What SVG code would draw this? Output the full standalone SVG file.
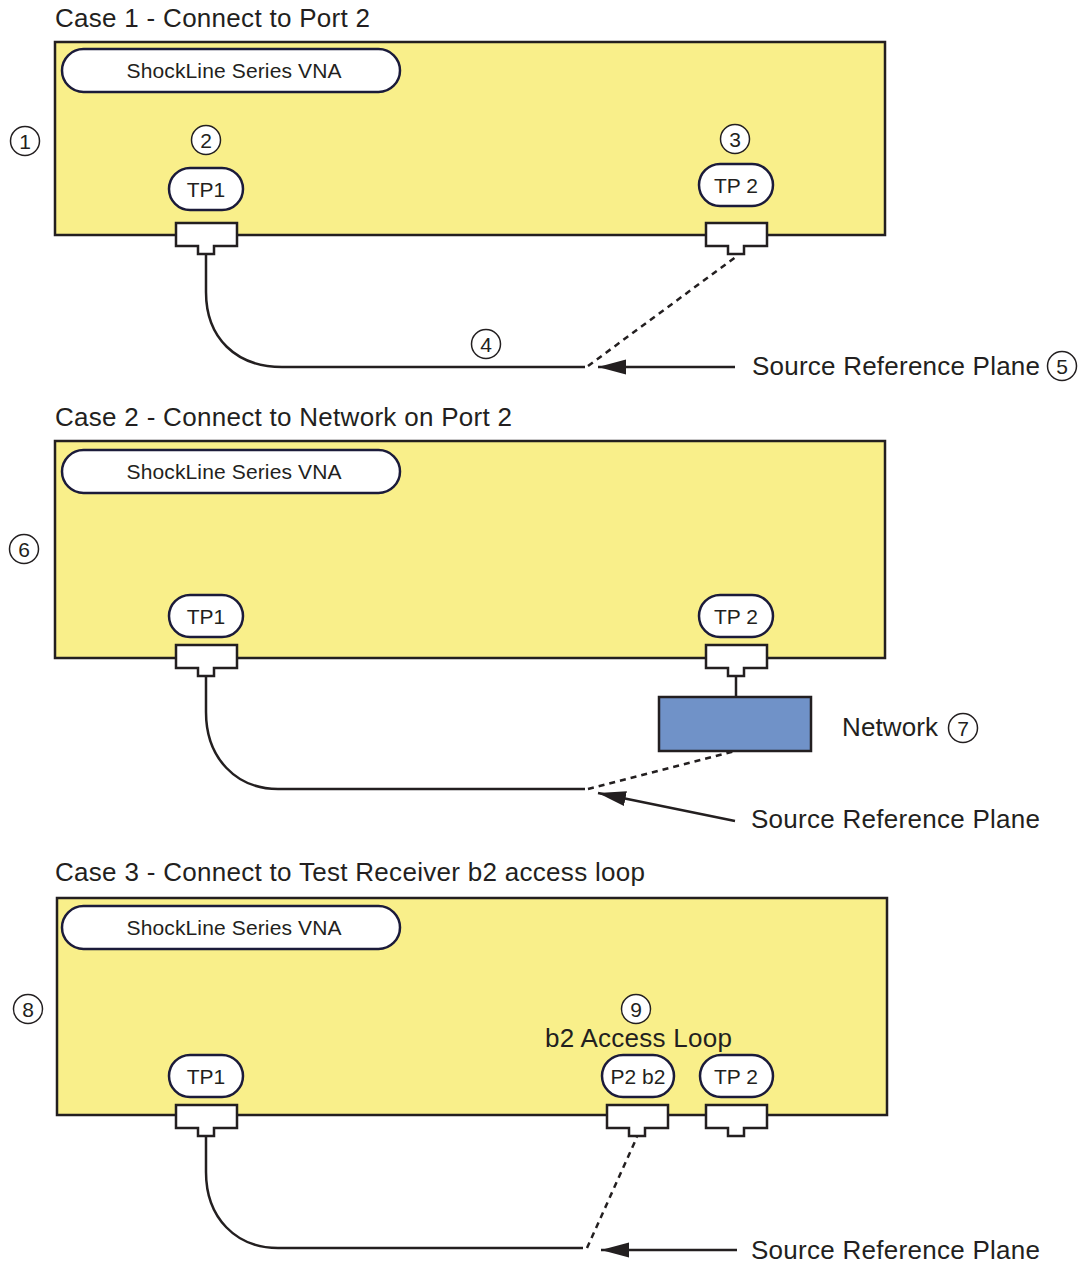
<svg xmlns="http://www.w3.org/2000/svg" width="1088" height="1265" viewBox="0 0 1088 1265">
<style>
text{font-family:"Liberation Sans",Arial,sans-serif;fill:#231F20}
.title{font-size:26px}
.lbl{font-size:26px}
.pilltxt{font-size:21px}
.num{font-size:21px}
.case{fill:#F9EF8A;stroke:#231F20;stroke-width:2.5}
.pill{fill:#fff;stroke:#1B1B3A;stroke-width:2.5}
.circ{fill:#fff;stroke:#231F20;stroke-width:1.5}
.conn{fill:#fff;stroke:#231F20;stroke-width:2.5}
.cable{fill:none;stroke:#231F20;stroke-width:2.5}
.dash{fill:none;stroke:#231F20;stroke-width:2.5;stroke-dasharray:6 5}
.arr{fill:none;stroke:#231F20;stroke-width:2.5}
</style>
<defs>
<path id="connshape" class="conn" d="M-30 0 h61 v23 h-23 v8 h-16 v-8 h-22 z"/>
<marker id="ah" markerUnits="userSpaceOnUse" markerWidth="30" markerHeight="16" refX="28" refY="7.5" orient="auto">
<path d="M0 0 L28 7.5 L0 15 z" fill="#231F20"/>
</marker>
</defs>

<!-- Case 1 -->
<g id="case1">
<text class="title" x="55" y="27" textLength="315">Case 1 - Connect to Port 2</text>
<rect class="case" x="55" y="42" width="830" height="193"/>
<g id="c1-vna"><rect class="pill" x="62" y="49" width="338" height="43" rx="21.5"/><text class="pilltxt" x="234" y="78" text-anchor="middle" textLength="215">ShockLine Series VNA</text></g>
<g id="c1-n1"><circle class="circ" cx="25" cy="141" r="14.5"/><text class="num" x="25" y="148.5" text-anchor="middle">1</text></g>
<g id="c1-n2"><circle class="circ" cx="206" cy="140" r="14.5"/><text class="num" x="206" y="147.5" text-anchor="middle">2</text></g>
<g id="c1-n3"><circle class="circ" cx="735" cy="139" r="14.5"/><text class="num" x="735" y="146.5" text-anchor="middle">3</text></g>
<g id="c1-tp1"><rect class="pill" x="169" y="168" width="74" height="42" rx="21"/><text class="pilltxt" x="206" y="196.5" text-anchor="middle">TP1</text></g>
<g id="c1-tp2"><rect class="pill" x="699" y="164" width="74" height="42" rx="21"/><text class="pilltxt" x="736" y="192.5" text-anchor="middle">TP 2</text></g>
<g id="c1-conn1"><use href="#connshape" x="206" y="223"/></g>
<g id="c1-conn2"><use href="#connshape" x="736" y="223"/></g>
<g id="c1-n4"><circle class="circ" cx="486" cy="344" r="14.5"/><text class="num" x="486" y="351.5" text-anchor="middle">4</text></g>
<g id="c1-srp"><text class="lbl" x="752" y="375" textLength="288">Source Reference Plane</text></g>
<g id="c1-n5"><circle class="circ" cx="1062" cy="366" r="14.5"/><text class="num" x="1062" y="373.5" text-anchor="middle">5</text></g>
</g>

<!-- Case 2 -->
<g id="case2">
<text class="title" x="55" y="426" textLength="457">Case 2 - Connect to Network on Port 2</text>
<rect class="case" x="55" y="441" width="830" height="217"/>
<g id="c2-vna"><rect class="pill" x="62" y="450" width="338" height="43" rx="21.5"/><text class="pilltxt" x="234" y="479" text-anchor="middle" textLength="215">ShockLine Series VNA</text></g>
<g id="c2-n6"><circle class="circ" cx="24" cy="549" r="14.5"/><text class="num" x="24" y="556.5" text-anchor="middle">6</text></g>
<g id="c2-tp1"><rect class="pill" x="169" y="595" width="74" height="42" rx="21"/><text class="pilltxt" x="206" y="623.5" text-anchor="middle">TP1</text></g>
<g id="c2-tp2"><rect class="pill" x="699" y="595" width="74" height="42" rx="21"/><text class="pilltxt" x="736" y="623.5" text-anchor="middle">TP 2</text></g>
<g id="c2-conn1"><use href="#connshape" x="206" y="645"/></g>
<g id="c2-conn2"><use href="#connshape" x="736" y="645"/></g>
<g id="c2-network"><rect x="659" y="697" width="152" height="54" fill="#7092C8" stroke="#231F20" stroke-width="2.5"/></g>
<g id="c2-netlbl"><text class="lbl" x="842" y="736" textLength="96">Network</text></g>
<g id="c2-n7"><circle class="circ" cx="963" cy="728" r="14.5"/><text class="num" x="963" y="735.5" text-anchor="middle">7</text></g>
<g id="c2-srp"><text class="lbl" x="751" y="828" textLength="289">Source Reference Plane</text></g>
</g>

<!-- Case 3 -->
<g id="case3">
<text class="title" x="55" y="881" textLength="590">Case 3 - Connect to Test Receiver b2 access loop</text>
<rect class="case" x="57" y="898" width="830" height="217"/>
<g id="c3-vna"><rect class="pill" x="62" y="906" width="338" height="43" rx="21.5"/><text class="pilltxt" x="234" y="935" text-anchor="middle" textLength="215">ShockLine Series VNA</text></g>
<g id="c3-n8"><circle class="circ" cx="28" cy="1009" r="14.5"/><text class="num" x="28" y="1016.5" text-anchor="middle">8</text></g>
<g id="c3-n9"><circle class="circ" cx="636" cy="1009" r="14.5"/><text class="num" x="636" y="1016.5" text-anchor="middle">9</text></g>
<g id="c3-loop"><text class="lbl" x="545" y="1047" textLength="187">b2 Access Loop</text></g>
<g id="c3-tp1"><rect class="pill" x="169" y="1055" width="74" height="42" rx="21"/><text class="pilltxt" x="206" y="1083.5" text-anchor="middle">TP1</text></g>
<g id="c3-p2b2"><rect class="pill" x="602" y="1055" width="72" height="42" rx="21"/><text class="pilltxt" x="638" y="1083.5" text-anchor="middle">P2 b2</text></g>
<g id="c3-tp2"><rect class="pill" x="700" y="1055" width="73" height="42" rx="21"/><text class="pilltxt" x="736" y="1083.5" text-anchor="middle">TP 2</text></g>
<g id="c3-conn1"><use href="#connshape" x="206" y="1105"/></g>
<g id="c3-conn2"><use href="#connshape" x="637" y="1105"/></g>
<g id="c3-conn3"><use href="#connshape" x="736" y="1105"/></g>
<g id="c3-srp"><text class="lbl" x="751" y="1259" textLength="289">Source Reference Plane</text></g>
</g>

<!-- Connectors -->
<g id="connectors">
<path class="cable" d="M206 254 V292 C206 338 236 367 282 367 H585"/>
<path class="dash" d="M588 366 L737 256"/>
<path class="arr" d="M735 367 H598" marker-end="url(#ah)"/>

<path class="cable" d="M736 676 V697"/>
<path class="cable" d="M206 676 V712 C206 758 236 789 278 789 H585"/>
<path class="dash" d="M588 789 L735 751"/>
<path class="arr" d="M735 821 L598 793" marker-end="url(#ah)"/>

<path class="cable" d="M206 1136 V1172 C206 1218 236 1248 278 1248 H583"/>
<path class="dash" d="M587 1248 L637 1137"/>
<path class="arr" d="M737 1250 H601" marker-end="url(#ah)"/>
</g>
</svg>
